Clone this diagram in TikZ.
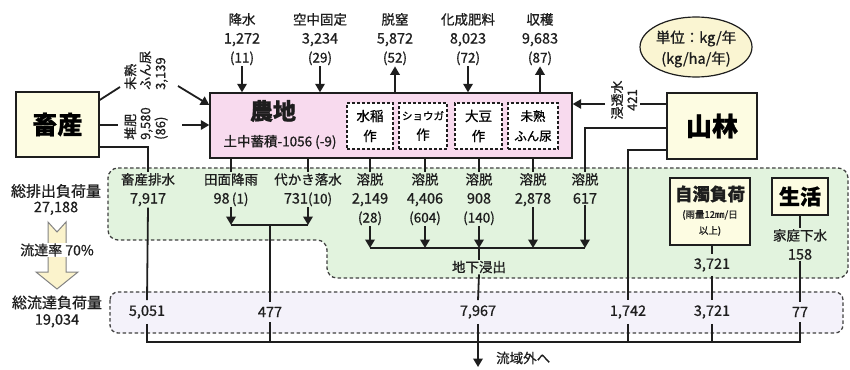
\documentclass[tikz,border=0pt]{standalone}
\usepackage{fontspec}
\setmainfont{Noto Sans CJK JP}[RawFeature={embolden=0.8}]
\usetikzlibrary{arrows.meta,shapes.geometric}
\definecolor{creamfill}{HTML}{FDFCE2}
\definecolor{pinkfill}{HTML}{F8DAEE}
\definecolor{greenfill}{HTML}{E2F3DE}
\definecolor{lavfill}{HTML}{F4F2FA}
\definecolor{ellfill}{HTML}{FAF5D2}
\definecolor{arrfill}{HTML}{FBF3CC}
\definecolor{inkc}{HTML}{1E1E1E}
\newcommand{\nm}[1]{{\fontsize{14.5}{19}\selectfont #1}}
\tikzset{
 ln/.style={draw=inkc, line width=1.8pt},
 arr/.style={ln, -{Triangle[length=8.5pt,width=9.5pt]}},
 region/.style={draw=inkc!85, line width=1.3pt, dash pattern=on 3.5pt off 2.5pt},
 ybox/.style={draw=inkc, line width=1.4pt, fill=creamfill, inner sep=0pt},
 dbox/.style={draw=inkc, line width=1.3pt, dash pattern=on 3pt off 2pt, fill=white, minimum height=46pt, inner sep=0pt, align=center, font=\fontsize{13.5}{20}\selectfont},
 lbl/.style={align=center, inner sep=1pt, font=\fontsize{13.5}{19}\selectfont, text=inkc},
 val/.style={inner sep=5pt, font=\fontsize{14.5}{15}\selectfont, text=inkc},
 rlbl/.style={rotate=90, align=left, inner sep=1pt, font=\fontsize{13}{15}\selectfont, text=inkc}
}
\begin{document}
\begin{tikzpicture}[x=1pt,y=-1pt]
\useasboundingbox (0,0) rectangle (850,369);
% regions
\path[region, fill=greenfill, rounded corners=10pt] (108,168) -- (848,168) -- (848,278) -- (327,278) -- (327,240) -- (108,240) -- cycle;
\path[region, fill=lavfill, rounded corners=8pt] (110,292) rectangle (843,333);

% main boxes
\node[ybox, minimum width=83pt, minimum height=65pt, font=\fontsize{25}{25}\selectfont\bfseries] (chiku) at (57.5,124.5) {畜産};
\node[draw=inkc, line width=1.4pt, fill=pinkfill, minimum width=362pt, minimum height=65pt, inner sep=0pt] (nochi) at (391,125.5) {};
\node[font=\fontsize{23}{23}\selectfont\bfseries, text=inkc] (nochit) at (273,111) {農地};
\node[font=\fontsize{13.5}{14}\selectfont, text=inkc] (chikuseki) at (280,142) {土中蓄積-1056 (-9)};
\node[dbox, minimum width=46pt] (suito) at (370,126) {水稲\\作};
\node[dbox, minimum width=48pt] (shoga) at (423,126) {{\fontsize{10.5}{20}\selectfont ショウガ}\\作};
\node[dbox, minimum width=47pt] (daizu) at (478.5,126) {大豆\\作};
\node[dbox, minimum width=50pt, font=\fontsize{12.5}{20}\selectfont] (mijukub) at (533,126) {未熟\\ふん尿};
\node[ybox, minimum width=90pt, minimum height=66pt, font=\fontsize{26}{26}\selectfont\bfseries] (sanrin) at (712,126) {山林};

% unit ellipse
\node[ellipse, draw=inkc, line width=1.2pt, fill=ellfill, minimum width=112pt, minimum height=60pt, inner sep=0pt] (unit) at (696,47) {};
\node[align=center, font=\fontsize{14.5}{21}\selectfont, text=inkc] (unitt) at (696,49) {単位：kg/年\\(kg/ha/年)};

% top labels
\node[lbl, anchor=north] (kosui) at (242,12) {降水\\\nm{1,272}\\(11)};
\node[lbl, anchor=north] (kuchu) at (320,12) {空中固定\\\nm{3,234}\\(29)};
\node[lbl, anchor=north] (datsu) at (395,12) {脱窒\\\nm{5,872}\\(52)};
\node[lbl, anchor=north] (kasei) at (468,12) {化成肥料\\\nm{8,023}\\(72)};
\node[lbl, anchor=north] (shukaku) at (540,12) {収穫\\\nm{9,683}\\(87)};

% rotated side labels
\node[rlbl, anchor=west] (mijukul) at (146,91) {未熟\\ふん尿\\3,139};
\node[rlbl, anchor=west] (taihi) at (146,141) {堆肥\\9,580\\(86)};
\node[rlbl, align=center] (shinto) at (624,100) {浸透水\\421};

% green region labels
\node[lbl, anchor=north] (haisui) at (148,172) {畜産排水\\\nm{7,917}};
\node[lbl, anchor=north] (tanmen) at (231,172) {田面降雨\\\nm{98}\,(1)};
\node[lbl, anchor=north] (shiro) at (308,172) {代かき落水\\\nm{731}(10)};
\node[lbl, anchor=north] (yo1) at (370,172) {溶脱\\\nm{2,149}\\(28)};
\node[lbl, anchor=north] (yo2) at (425,172) {溶脱\\\nm{4,406}\\(604)};
\node[lbl, anchor=north] (yo3) at (479,172) {溶脱\\\nm{908}\\(140)};
\node[lbl, anchor=north] (yo4) at (533,172) {溶脱\\\nm{2,878}};
\node[lbl, anchor=north] (yo5) at (585,172) {溶脱\\\nm{617}};
\node[lbl] (chika) at (479,267) {地下浸出};
\node[ybox, minimum width=80pt, minimum height=67pt] (jidaku) at (710,211.5) {};
\node[font=\fontsize{17.5}{18}\selectfont\bfseries, text=inkc] (jt1) at (710,194) {自濁負荷};
\node[font=\fontsize{9.5}{10}\selectfont, text=inkc] (jt2) at (710,215) {(雨量12㎜/日};
\node[font=\fontsize{9.5}{10}\selectfont, text=inkc] (jt3) at (710,231) {以上)};
\node[val, inner sep=4pt] (v3721a) at (712,265) {3,721};
\node[ybox, minimum width=56pt, minimum height=37pt, font=\fontsize{21}{21}\selectfont\bfseries] (seikatsu) at (800,196.5) {生活};
\node[lbl, anchor=north] (katei) at (800,228) {家庭下水\\\nm{158}};

% bottom values
\node[val] (v5051) at (147,312) {5,051};
\node[val] (v477) at (270,312) {477};
\node[val] (v7967) at (478,312) {7,967};
\node[val] (v1742) at (628,312) {1,742};
\node[val] (v3721b) at (712,312) {3,721};
\node[val] (v77) at (800,312) {77};

% left side
\node[lbl, font=\fontsize{15}{15.5}\selectfont] (souhai) at (56,199.5) {総排出負荷量\\\nm{27,188}};
\path[draw=inkc!55, line width=1pt, fill=arrfill] (48,222) -- (57,232) -- (66,222) -- (66,272) -- (78,272) -- (57,289) -- (36,272) -- (48,272) -- cycle;
\node[lbl, fill=white, inner sep=1pt, font=\fontsize{14}{15}\selectfont] (ritsu) at (57,250) {流達率 70\%};
\node[lbl, font=\fontsize{15}{16.5}\selectfont] (souryu) at (57,311.5) {総流達負荷量\\\nm{19,034}};

% coordinates
\coordinate (p1) at (120,87); \coordinate (p2) at (178,86);
\coordinate (p3) at (118,125); \coordinate (p4) at (182,125);
\coordinate (p5) at (640,104); \coordinate (p6) at (605,104);
\coordinate (b1L) at (231,225); \coordinate (b1R) at (308,225); \coordinate (b1M) at (270,225);
\coordinate (b2L) at (370,248); \coordinate (b2R) at (585,248);
\coordinate (busL) at (147,342);
\coordinate (outend) at (478,367);

% top arrows
\draw[arr] (kosui.south) -- (kosui.south |- nochi.north);
\draw[arr] (kuchu.south) -- (kuchu.south |- nochi.north);
\draw[arr] (datsu.south |- nochi.north) -- (datsu.south);
\draw[arr] (kasei.south) -- (kasei.south |- nochi.north);
\draw[arr] (shukaku.south |- nochi.north) -- (shukaku.south);

% side inputs
\draw[ln] (chiku.east |- 0,100) -- (p1);
\draw[arr] (p2) -- (nochi.west |- 0,105);
\draw[ln] (chiku.east |- p3) -- (p3);
\draw[arr] (p4) -- (nochi.west |- p4);
\draw[ln] (sanrin.west |- p5) -- (p5);
\draw[arr] (p6) -- (nochi.east |- p6);

% livestock drainage
\draw[ln] (chiku.east |- 0,147) -| (haisui.north);
\draw[ln] (haisui.south) -- (v5051.north);

% paddy
\draw[ln] (tanmen.north |- nochi.south) -- (tanmen.north);
\draw[ln] (shiro.north |- nochi.south) -- (shiro.north);
\draw[arr] (tanmen.south) -- (tanmen.south |- b1L);
\draw[arr] (shiro.south) -- (shiro.south |- b1R);
\draw[ln] (b1L) -- (b1R);
\draw[ln] (b1M) -- (v477.north);

% leaching
\draw[ln] (yo1.north |- nochi.south) -- (yo1.north);
\draw[ln] (yo2.north |- nochi.south) -- (yo2.north);
\draw[ln] (yo3.north |- nochi.south) -- (yo3.north);
\draw[ln] (yo4.north |- nochi.south) -- (yo4.north);
\draw[ln] (sanrin.west |- 0,128) -| (yo5.north);
\draw[arr] (yo1.south) -- (yo1.south |- b2L);
\draw[arr] (yo2.south) -- (yo2.south |- b2L);
\draw[arr] (yo3.south) -- (yo3.south |- b2L);
\draw[arr] (yo4.south) -- (yo4.south |- b2L);
\draw[arr] (yo5.south) -- (yo5.south |- b2L);
\draw[ln] (b2L) -- (b2R);
\draw[ln] (yo3.south |- b2L) -- (chika.north);
\draw[ln] (chika.south) -- (v7967.north);

% forest
\draw[ln] (sanrin.west |- 0,150) -| (v1742.north);

% self pollution and household
\draw[ln] (v3721a.north |- jidaku.south) -- (v3721a.north);
\draw[ln] (v3721a.south) -- (v3721b.north);
\draw[ln] (seikatsu.south) -- (katei.north);
\draw[ln] (katei.south) -- (v77.north);

% bus
\draw[ln] (v5051.south) -- (v5051.south |- busL) -- (v77.south |- busL) -- (v77.south);
\draw[ln] (v477.south) -- (v477.south |- busL);
\draw[ln] (v7967.south) -- (v7967.south |- busL);
\draw[ln] (v1742.south) -- (v1742.south |- busL);
\draw[ln] (v3721b.south) -- (v3721b.south |- busL);
\draw[arr] (v7967.south |- busL) -- (outend);
\node[lbl, anchor=west] (ryuiki) at (495,358) {流域外へ};
\end{tikzpicture}
\end{document}
